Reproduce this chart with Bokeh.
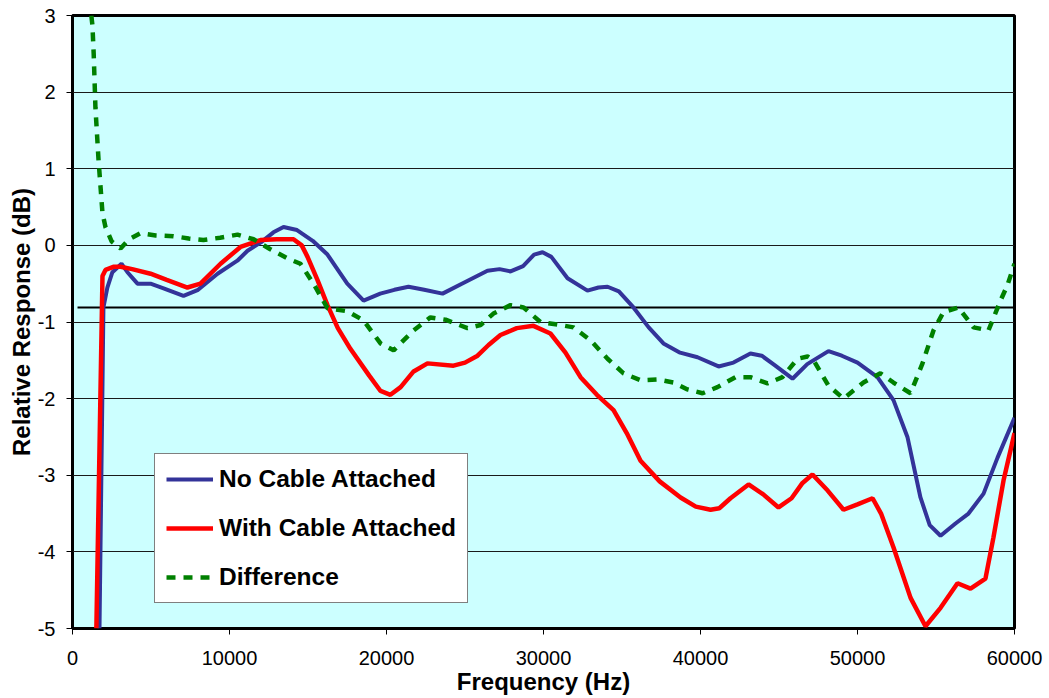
from bokeh.plotting import figure
from bokeh.models import (Range1d, SingleIntervalTicker, Legend, LegendItem,
                          PrintfTickFormatter)
from bokeh.embed import file_html
from bokeh.resources import INLINE

# ---------------- data ----------------
no_cable_freq = [1720, 1970, 2220, 2540, 3120, 3500, 4140, 4970, 5800, 7070, 8000,
                 9240, 10500, 11150, 12000, 12800, 13440, 14300, 15300, 16240,
                 17000, 17500, 18540, 19600, 20500, 21400, 22400, 23570, 24800,
                 26430, 27200, 27900, 28700, 29400, 29940, 30500, 31530, 32800,
                 33500, 34080, 34800, 35730, 36700, 37640, 38700, 39810, 41150,
                 42100, 43180, 43900, 44700, 45860, 46800, 48150, 49000, 50000,
                 51270, 52290, 53180, 54010, 54600, 55290, 56240, 57070, 58030,
                 58920, 60000]
no_cable_db = [-5.0, -0.81, -0.55, -0.35, -0.24, -0.35, -0.50, -0.50, -0.56, -0.66,
               -0.58, -0.37, -0.20, -0.07, 0.04, 0.17, 0.24, 0.20, 0.06, -0.12,
               -0.35, -0.50, -0.72, -0.63, -0.58, -0.54, -0.58, -0.63, -0.50,
               -0.33, -0.31, -0.34, -0.27, -0.12, -0.09, -0.15, -0.43, -0.59,
               -0.55, -0.54, -0.60, -0.81, -1.07, -1.28, -1.40, -1.46, -1.58,
               -1.53, -1.41, -1.44, -1.56, -1.74, -1.55, -1.38, -1.44, -1.53,
               -1.72, -2.02, -2.50, -3.29, -3.65, -3.79, -3.63, -3.50, -3.24,
               -2.77, -2.25]

with_cable_freq = [1520, 1910, 2100, 2600, 3060, 3800, 4970, 6000, 7320, 8150, 9430,
                   10700, 11970, 13000, 14080, 14600, 14970, 15600, 16240, 16900,
                   17700, 18900, 19620, 20250, 20900, 21700, 22610, 24270, 25000,
                   25800, 26500, 27260, 28300, 29360, 30440, 31400, 32360, 33400,
                   34460, 35300, 36180, 37400, 38730, 39700, 40640, 41200, 41910,
                   43060, 44000, 44970, 45800, 46500, 47130, 48100, 49110, 50000,
                   50960, 51500, 52290, 53380, 54330, 55290, 56370, 57200, 58150,
                   58660, 59300, 60000]
with_cable_db = [-5.0, -0.40, -0.32, -0.28, -0.28, -0.31, -0.37, -0.45, -0.55, -0.50,
                 -0.24, -0.02, 0.07, 0.08, 0.08, 0.00, -0.15, -0.45, -0.78, -1.08,
                 -1.35, -1.70, -1.90, -1.95, -1.85, -1.65, -1.54, -1.57, -1.53,
                 -1.44, -1.30, -1.17, -1.08, -1.05, -1.15, -1.40, -1.72, -1.95,
                 -2.15, -2.45, -2.81, -3.08, -3.29, -3.41, -3.45, -3.43, -3.30,
                 -3.12, -3.25, -3.42, -3.30, -3.10, -2.99, -3.20, -3.45, -3.38,
                 -3.30, -3.50, -3.94, -4.60, -4.97, -4.73, -4.41, -4.48, -4.35,
                 -3.81, -3.07, -2.45]

diff_freq = [1200, 1270, 1350, 1460, 1660, 1910, 2100, 2500, 3060, 3600, 4330, 5300,
             6430, 7400, 8340, 9400, 10510, 11530, 12600, 13690, 14520, 15350,
             16240, 17520, 18540, 19620, 20450, 21720, 22800, 23760, 25160, 25990,
             26810, 27900, 28730, 29810, 31080, 31910, 33000, 34080, 35100, 36180,
             37260, 38280, 39170, 40130, 41080, 42230, 43180, 44270, 45220, 46180,
             46820, 47200, 48150, 49110, 50380, 51460, 52290, 53380, 54140, 54840,
             55480, 56430, 57390, 58340, 59110, 59550, 60000]
diff_db = [3.00, 2.87, 2.50, 1.80, 1.11, 0.42, 0.24, 0.05, -0.04, 0.08, 0.16, 0.13,
           0.12, 0.09, 0.07, 0.10, 0.14, 0.08, -0.05, -0.17, -0.24, -0.50, -0.82,
           -0.86, -0.98, -1.28, -1.37, -1.11, -0.94, -0.97, -1.08, -1.04, -0.89,
           -0.78, -0.81, -1.00, -1.04, -1.07, -1.24, -1.48, -1.67, -1.76, -1.75,
           -1.79, -1.88, -1.93, -1.85, -1.72, -1.72, -1.80, -1.72, -1.48, -1.45,
           -1.50, -1.83, -2.00, -1.79, -1.67, -1.79, -1.93, -1.54, -1.11, -0.87,
           -0.81, -1.07, -1.11, -0.72, -0.52, -0.24]

ref_freq = [320, 60000]
ref_db = [-0.81, -0.81]

labels = ["No Cable Attached", "With Cable Attached", "Difference"]
x_title = "Frequency (Hz)"
y_title = "Relative Response (dB)"

FONT = "Liberation Sans"

# ---------------- figure ----------------
p = figure(width=1049, height=698, output_backend="svg", toolbar_location=None,
           x_range=Range1d(0, 60000), y_range=Range1d(-5, 3),
           min_border_left=72, min_border_right=35, min_border_top=15,
           min_border_bottom=70)

p.background_fill_color = "#CCFFFF"
p.border_fill_color = "white"
p.outline_line_color = "black"
p.outline_line_width = 3

p.xgrid.visible = False
p.ygrid.grid_line_color = "#1a1a1a"
p.ygrid.grid_line_width = 1

p.xaxis.ticker = SingleIntervalTicker(interval=10000)
p.yaxis.ticker = SingleIntervalTicker(interval=1)
p.xaxis.formatter = PrintfTickFormatter(format="%d")
p.yaxis.formatter = PrintfTickFormatter(format="%d")

for ax in (p.xaxis, p.yaxis):
    ax.axis_line_color = None
    ax.major_tick_line_color = "black"
    ax.major_tick_line_width = 1
    ax.major_tick_in = 0
    ax.major_tick_out = 6
    ax.minor_tick_line_color = None
    ax.major_label_text_font = FONT
    ax.major_label_text_font_size = "20px"
    ax.major_label_text_color = "black"
    ax.axis_label_text_font = FONT
    ax.axis_label_text_font_size = "24px"
    ax.axis_label_text_font_style = "bold"
    ax.axis_label_text_color = "black"

p.xaxis.axis_label = x_title
p.yaxis.axis_label = y_title
p.xaxis.major_label_standoff = 16
p.xaxis.axis_label_standoff = 0
p.yaxis.major_label_standoff = 11
p.yaxis.axis_label_standoff = 0

# reference level line
p.line(ref_freq, ref_db, line_color="black", line_width=2)

r_blue = p.line(no_cable_freq, no_cable_db, line_color="#333399", line_width=4)
r_red = p.line(with_cable_freq, with_cable_db, line_color="#FF0000", line_width=4.5)
r_green = p.line(diff_freq, diff_db, line_color="#008000", line_width=4.5,
                 line_dash="9 8")

legend = Legend(items=[LegendItem(label=labels[0], renderers=[r_blue]),
                       LegendItem(label=labels[1], renderers=[r_red]),
                       LegendItem(label=labels[2], renderers=[r_green])],
                location=(82, 25))
legend.label_text_font = FONT
legend.label_text_font_style = "bold"
legend.label_text_font_size = "24.5px"
legend.label_text_color = "black"
legend.glyph_width = 47
legend.glyph_height = 28
legend.label_height = 28
legend.label_standoff = 6
legend.padding = 11
legend.spacing = 21
legend.margin = 0
legend.border_line_color = "black"
legend.border_line_width = 1
legend.background_fill_color = "white"
legend.background_fill_alpha = 1.0
p.add_layout(legend, "center")

open("out.html", "w").write(file_html(p, INLINE))
